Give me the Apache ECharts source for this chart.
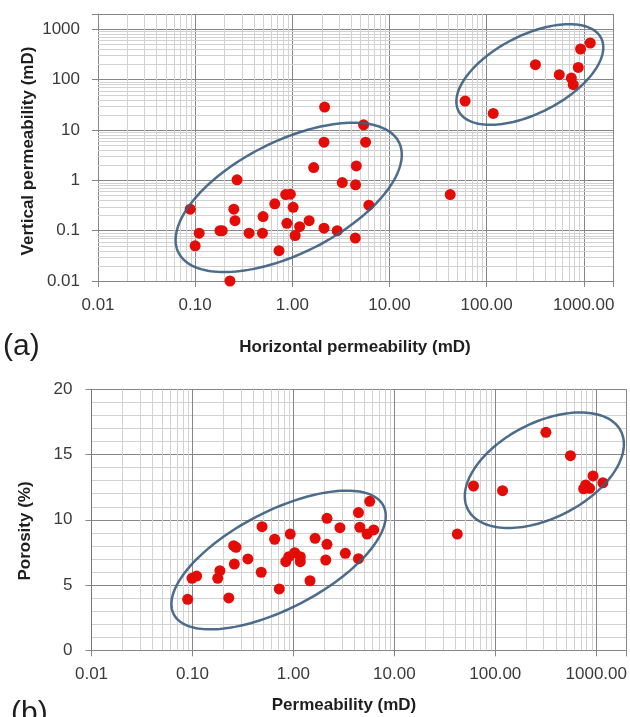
<!DOCTYPE html>
<html>
<head>
<meta charset="utf-8">
<script src="https://cdn.jsdelivr.net/npm/echarts@6/dist/echarts.min.js"></script>
<style>
  html, body { margin: 0; padding: 0; background: #fff; }
  #chart { width: 630px; height: 717px; }
</style>
</head>
<body>
<div id="chart"></div>
<script>
// (a) horizontal vs vertical permeability (mD)
const horizPerm = [0.089, 0.27, 0.11, 0.10, 0.18, 0.19, 0.25, 0.257, 0.228, 0.359,
    0.493, 0.50, 0.66, 0.73, 0.855, 0.955, 0.88, 1.02, 1.07, 1.19,
    1.49, 1.66, 2.15, 5.42, 2.12, 5.68, 4.56, 3.27, 4.48, 6.14,
    2.12, 2.90, 4.45, 42.2, 60.1, 117, 318, 560, 745, 780,
    878, 927, 1166];
const vertPerm = [0.266, 1.02, 0.089, 0.050, 0.10, 0.10, 0.266, 0.158, 0.010, 0.089,
    0.089, 0.19, 0.34, 0.040, 0.52, 0.53, 0.14, 0.29, 0.080, 0.12,
    0.158, 1.79, 28.4, 12.6, 5.7, 5.7, 1.93, 0.90, 0.81, 0.32,
    0.112, 0.10, 0.071, 0.52, 37.4, 21.2, 197, 125, 107, 79,
    174, 404, 531];

// (b) permeability (mD) vs porosity (%)
const perm = [0.0896, 0.099, 0.11, 0.178, 0.187, 0.229, 0.256, 0.27, 0.26, 0.354,
    0.489, 0.48, 0.652, 0.724, 0.93, 0.84, 0.90, 1.03, 1.17, 1.17,
    1.46, 1.64, 2.15, 2.15, 2.09, 2.89, 3.27, 4.41, 4.55, 4.41,
    5.37, 6.24, 5.70, 42.0, 60.8, 118, 317, 555, 929, 750,
    785, 860, 1162];
const porosity = [3.91, 5.52, 5.69, 5.52, 6.10, 4.01, 8.02, 7.89, 6.61, 7.0,
    9.47, 5.98, 8.51, 4.70, 8.91, 6.79, 7.17, 7.48, 7.17, 6.79,
    5.33, 8.58, 10.11, 8.12, 6.92, 9.40, 7.43, 10.55, 9.43, 7.02,
    8.91, 9.22, 11.42, 8.91, 12.59, 12.23, 16.70, 14.91, 13.36, 12.38,
    12.67, 12.41, 12.84];

// cluster ellipses: centre in data units, semi-axes in decades (log) / % (linear)
const ellipsesA = [
    { center: [0.918, 0.457], major: [1.135, 1.094], minor: [0.258, -1.0] },
    { center: [278.6, 126], major: [0.734, 0.723], minor: [0.1815, -0.689] }
];
const ellipsesB = [
    { center: [0.713, 6.92], major: [1.039, 4.15], minor: [0.218, -3.32] },
    { center: [306, 13.8], major: [0.759, 2.98], minor: [0.211, -3.27] }
];

const porosityTicks = [0, 5, 10, 15, 20];

const FONT = '"Liberation Sans", Arial, sans-serif';
const MAJOR = '#868686';
const MINOR = '#d2d2d2';

// minor log grid values 2..9 x 10^k
let minorLog = [];
for (let k = -2; k <= 3; k++) {
    for (let m = 2; m <= 9; m++) {
        let v = Number((m * Math.pow(10, k)).toPrecision(6));
        if (v < 2000) minorLog.push(v);
    }
}

function isDecade(v) {
    let l = Math.log10(v);
    return Math.abs(l - Math.round(l)) < 1e-6;
}

function logAxis(gridIdx, fmt, margin) {
    return {
        type: 'log', logBase: 10, gridIndex: gridIdx,
        min: 0.01, max: 2000,
        axisLine: { show: true, lineStyle: { color: MAJOR, width: 1 } },
        axisTick: { show: true, length: 6, lineStyle: { color: MAJOR } },
        splitLine: { show: true, lineStyle: { color: MAJOR, width: 1 } },
        axisLabel: {
            margin: margin,
            fontFamily: FONT, fontSize: 17, color: '#3a3a3a',
            formatter: function (v) {
                if (!isDecade(v)) return '';
                return fmt(v);
            }
        }
    };
}

function minorGridSeries(gridIdx, vals, dir, ref) {
    return {
        type: 'custom', xAxisIndex: gridIdx, yAxisIndex: gridIdx,
        silent: true, z: 1, animation: false,
        data: vals.map(v => dir === 'x' ? [v, ref] : [ref, v]),
        renderItem: function (params, api) {
            let cs = params.coordSys;
            let p = api.coord([api.value(0), api.value(1)]);
            let shape;
            if (dir === 'x') {
                let x = Math.round(p[0]) + 0.5;
                shape = { x1: x, y1: cs.y, x2: x, y2: cs.y + cs.height };
            } else {
                let y = Math.round(p[1]) + 0.5;
                shape = { x1: cs.x, y1: y, x2: cs.x + cs.width, y2: y };
            }
            return { type: 'line', shape: shape, style: { stroke: MINOR, lineWidth: 1 } };
        }
    };
}

function ellipseSeries(gridIdx, e, logY) {
    return {
        type: 'custom', xAxisIndex: gridIdx, yAxisIndex: gridIdx,
        silent: true, z: 4, clip: false, animation: false,
        data: [e.center],
        renderItem: function (params, api) {
            let pts = [];
            let lx = Math.log10(e.center[0]);
            for (let i = 0; i <= 160; i++) {
                let t = i / 160 * Math.PI * 2;
                let c = Math.cos(t), s = Math.sin(t);
                let x = Math.pow(10, lx + c * e.major[0] + s * e.minor[0]);
                let dy = c * e.major[1] + s * e.minor[1];
                let y = logY ? e.center[1] * Math.pow(10, dy) : e.center[1] + dy;
                pts.push(api.coord([x, y]));
            }
            return {
                type: 'polyline', shape: { points: pts },
                style: { fill: null, stroke: '#3a5d7e', lineWidth: 2.5, opacity: 0.9 }
            };
        }
    };
}

function scatterSeries(gridIdx, xs, ys) {
    return {
        type: 'scatter', xAxisIndex: gridIdx, yAxisIndex: gridIdx,
        symbol: 'circle', symbolSize: 11, z: 3,
        itemStyle: { color: '#e40c06', opacity: 1 },
        data: xs.map((x, i) => [x, ys[i]])
    };
}

const chart = echarts.init(document.getElementById('chart'), null, { renderer: 'canvas' });

const titleFont = 'bold 17px ' + FONT;

chart.setOption({
    animation: false,
    backgroundColor: '#fff',
    grid: [
        { left: 98, top: 14, width: 515, height: 267 },
        { left: 91.5, top: 389.3, width: 539, height: 261 }
    ],
    xAxis: [
        logAxis(0, v => v.toFixed(2), 16),
        logAxis(1, v => v.toFixed(2), 16)
    ],
    yAxis: [
        logAxis(0, v => String(Number(v.toPrecision(6))), 18),
        {
            type: 'value', gridIndex: 1, min: porosityTicks[0],
            max: porosityTicks[porosityTicks.length - 1], interval: 5,
            axisLine: { show: true, lineStyle: { color: '#777' } },
            axisTick: { show: true, length: 6, lineStyle: { color: MAJOR } },
            splitLine: { show: true, lineStyle: { color: MAJOR } },
            minorTick: { show: false, splitNumber: 5 },
            minorSplitLine: { show: true, lineStyle: { color: MINOR } },
            axisLabel: { margin: 19, fontFamily: FONT, fontSize: 17, color: '#3a3a3a' }
        }
    ],
    graphic: [
        { type: 'text', x: 28, y: 151, rotation: Math.PI / 2,
          style: { text: 'Vertical permeability (mD)', font: titleFont, fill: '#1e1e1e', align: 'center', verticalAlign: 'middle' } },
        { type: 'text', x: 355, y: 347,
          style: { text: 'Horizontal permeability (mD)', font: titleFont, fill: '#1e1e1e', align: 'center', verticalAlign: 'middle' } },
        { type: 'text', x: 3, y: 347,
          style: { text: '(a)', font: '30px ' + FONT, fill: '#1e1e1e', align: 'left', verticalAlign: 'middle' } },
        { type: 'text', x: 25, y: 531, rotation: Math.PI / 2,
          style: { text: 'Porosity (%)', font: titleFont, fill: '#1e1e1e', align: 'center', verticalAlign: 'middle' } },
        { type: 'text', x: 344, y: 705,
          style: { text: 'Permeability (mD)', font: titleFont, fill: '#1e1e1e', align: 'center', verticalAlign: 'middle' } },
        { type: 'text', x: 11, y: 714,
          style: { text: '(b)', font: '30px ' + FONT, fill: '#1e1e1e', align: 'left', verticalAlign: 'middle' } }
    ],
    series: [
        minorGridSeries(0, minorLog, 'x', 1),
        minorGridSeries(0, minorLog, 'y', 1),
        minorGridSeries(1, minorLog, 'x', 10),
        scatterSeries(0, horizPerm, vertPerm),
        scatterSeries(1, perm, porosity),
        ellipseSeries(0, ellipsesA[0], true),
        ellipseSeries(0, ellipsesA[1], true),
        ellipseSeries(1, ellipsesB[0], false),
        ellipseSeries(1, ellipsesB[1], false)
    ]
});
</script>
</body>
</html>
